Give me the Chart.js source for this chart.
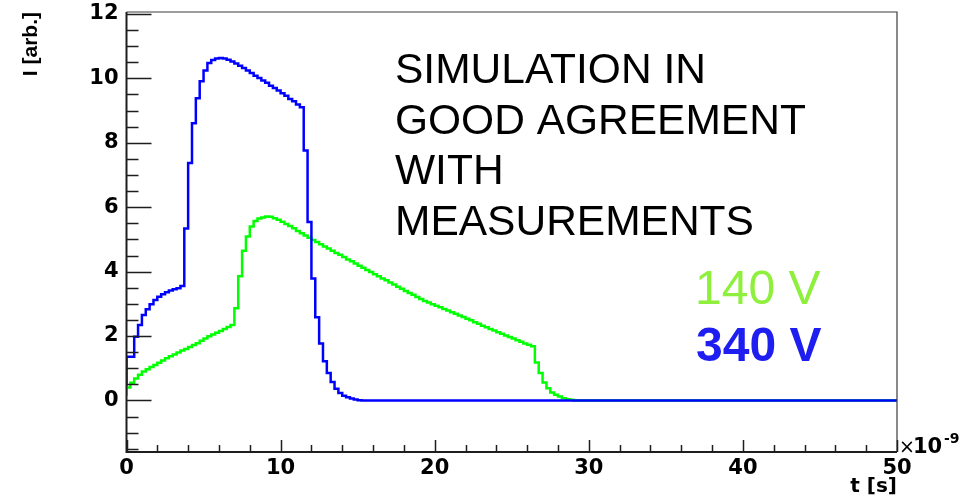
<!DOCTYPE html>
<html>
<head>
<meta charset="utf-8">
<script src="https://cdn.jsdelivr.net/npm/chart.js@4.4.1/dist/chart.umd.min.js"></script>
<style>
  html, body { margin: 0; padding: 0; background: #ffffff; }
  #wrap { width: 974px; height: 498px; }
</style>
</head>
<body>
<div id="wrap"><canvas id="c" width="974" height="498"></canvas></div>
<script>
// Simulated induced current I(t), histogrammed in 0.25 ns bins from 0 to 50 ns.
const binWidth = 0.25;           // ns per bin
const xTickLabels = [0, 10, 20, 30, 40, 50];
const yTickLabels = [0, 2, 4, 6, 8, 10, 12];
const seriesLabels = ['340 V', '140 V'];
const noteLines = ['SIMULATION IN', 'GOOD AGREEMENT', 'WITH', 'MEASUREMENTS'];

// 340 V: value where the outline starts at t = 0, then one value per bin
const start340 = 0.45;
const current340 = [
  1.36, 1.36, 1.98, 2.34, 2.65, 2.83, 2.99, 3.12, 3.22, 3.30,
  3.36, 3.41, 3.45, 3.48, 3.55, 5.34, 7.37, 8.61, 9.38, 9.91,
  10.24, 10.48, 10.57, 10.62, 10.63, 10.62, 10.58, 10.52, 10.46, 10.39,
  10.32, 10.24, 10.17, 10.08, 10.01, 9.93, 9.86, 9.77, 9.70, 9.62,
  9.54, 9.46, 9.36, 9.29, 9.19, 9.10, 7.76, 5.54, 3.79, 2.58,
  1.77, 1.22, 0.85, 0.57, 0.36, 0.23, 0.15, 0.10, 0.06, 0.03,
  0.01, 0, 0, 0, 0, 0, 0, 0, 0, 0,
  0, 0, 0, 0, 0, 0, 0, 0, 0, 0,
  0, 0, 0, 0, 0, 0, 0, 0, 0, 0,
  0, 0, 0, 0, 0, 0, 0, 0, 0, 0,
  0, 0, 0, 0, 0, 0, 0, 0, 0, 0,
  0, 0, 0, 0, 0, 0, 0, 0, 0, 0,
  0, 0, 0, 0, 0, 0, 0, 0, 0, 0,
  0, 0, 0, 0, 0, 0, 0, 0, 0, 0,
  0, 0, 0, 0, 0, 0, 0, 0, 0, 0,
  0, 0, 0, 0, 0, 0, 0, 0, 0, 0,
  0, 0, 0, 0, 0, 0, 0, 0, 0, 0,
  0, 0, 0, 0, 0, 0, 0, 0, 0, 0,
  0, 0, 0, 0, 0, 0, 0, 0, 0, 0,
  0, 0, 0, 0, 0, 0, 0, 0, 0, 0
];

// 140 V
const start140 = 0.15;
const current140 = [
  0.40, 0.55, 0.68, 0.80, 0.90, 0.97, 1.04, 1.10, 1.17, 1.24,
  1.31, 1.37, 1.43, 1.49, 1.55, 1.60, 1.66, 1.72, 1.78, 1.85,
  1.92, 1.99, 2.05, 2.10, 2.16, 2.22, 2.28, 2.34, 2.86, 3.86,
  4.65, 5.09, 5.40, 5.57, 5.65, 5.68, 5.71, 5.70, 5.66, 5.61,
  5.55, 5.48, 5.42, 5.35, 5.26, 5.19, 5.12, 5.05, 4.98, 4.92,
  4.85, 4.78, 4.72, 4.65, 4.58, 4.52, 4.45, 4.38, 4.32, 4.25,
  4.18, 4.12, 4.05, 3.99, 3.92, 3.86, 3.79, 3.73, 3.66, 3.60,
  3.53, 3.47, 3.40, 3.34, 3.28, 3.21, 3.15, 3.09, 3.04, 2.99,
  2.94, 2.89, 2.84, 2.79, 2.74, 2.69, 2.64, 2.59, 2.54, 2.49,
  2.43, 2.38, 2.32, 2.27, 2.22, 2.17, 2.12, 2.07, 2.02, 1.97,
  1.92, 1.87, 1.82, 1.77, 1.73, 1.68, 1.18, 0.85, 0.56, 0.38,
  0.25, 0.18, 0.12, 0.07, 0.04, 0.02, 0, 0, 0, 0,
  0, 0, 0, 0, 0, 0, 0, 0, 0, 0,
  0, 0, 0, 0, 0, 0, 0, 0, 0, 0,
  0, 0, 0, 0, 0, 0, 0, 0, 0, 0,
  0, 0, 0, 0, 0, 0, 0, 0, 0, 0,
  0, 0, 0, 0, 0, 0, 0, 0, 0, 0,
  0, 0, 0, 0, 0, 0, 0, 0, 0, 0,
  0, 0, 0, 0, 0, 0, 0, 0, 0, 0,
  0, 0, 0, 0, 0, 0, 0, 0, 0, 0
];

// Histogram outline: first point at t = 0, then each bin value placed at its upper edge.
// With stepped 'after' the line rises at the lower edge and runs flat across the bin.
function histOutline(start, values) {
  const pts = [{ x: 0, y: start }];
  values.forEach((v, i) => pts.push({ x: (i + 1) * binWidth, y: v }));
  return pts;
}

const AXIS_FONT = 'DejaVu Sans';
const TEXT_FONT = 'Liberation Sans';

// Axis frame with inward ticks, exponent label and the text notes
const rootFrame = {
  id: 'rootFrame',
  afterDatasetsDraw(chart) {
    const { ctx, chartArea: a, scales: { x, y } } = chart;
    ctx.save();

    // thin top and right frame lines
    ctx.strokeStyle = '#3c3c3c';
    ctx.lineWidth = 1.2;
    ctx.beginPath();
    ctx.moveTo(a.left, a.top);
    ctx.lineTo(a.right, a.top);
    ctx.lineTo(a.right, a.bottom);
    ctx.stroke();

    // axis lines
    ctx.strokeStyle = '#1e1e1e';
    ctx.lineWidth = 2;
    ctx.beginPath();
    ctx.moveTo(a.left, a.top);
    ctx.lineTo(a.left, a.bottom);
    ctx.lineTo(a.right, a.bottom);
    ctx.stroke();

    ctx.lineWidth = 1.5;
    ctx.beginPath();
    // y ticks: majors every label step, 4 subdivisions
    const yStep = yTickLabels[1] - yTickLabels[0];
    const yMinor = yStep / 4;
    for (let k = Math.ceil(y.min / yMinor); k * yMinor <= y.max + 1e-9; k++) {
      const v = k * yMinor;
      const isMajor = Math.abs(v / yStep - Math.round(v / yStep)) < 1e-6;
      const py = Math.round(y.getPixelForValue(v)) + 0.5;
      ctx.moveTo(a.left, py);
      ctx.lineTo(a.left + (isMajor ? 25 : 12), py);
    }
    // x ticks: majors every label step, 5 subdivisions
    const xStep = xTickLabels[1] - xTickLabels[0];
    const xMinor = xStep / 5;
    for (let k = Math.ceil(x.min / xMinor); k * xMinor <= x.max + 1e-9; k++) {
      const v = k * xMinor;
      const isMajor = Math.abs(v / xStep - Math.round(v / xStep)) < 1e-6;
      const px = Math.round(x.getPixelForValue(v)) + 0.5;
      ctx.moveTo(px, a.bottom);
      ctx.lineTo(px, a.bottom - (isMajor ? 12 : 7));
    }
    ctx.stroke();

    // exponent of the time axis
    ctx.fillStyle = '#000';
    ctx.textBaseline = 'alphabetic';
    ctx.textAlign = 'left';
    ctx.font = '19px "' + AXIS_FONT + '"';
    ctx.fillText('\u00d7', a.right + 2, a.bottom + 1);
    ctx.font = 'bold 21px "' + AXIS_FONT + '"';
    ctx.fillText('10', a.right + 16, a.bottom + 1);
    ctx.font = 'bold 14px "' + AXIS_FONT + '"';
    ctx.fillText('-9', a.right + 47, a.bottom - 9);

    // notes
    ctx.font = '42.5px "' + TEXT_FONT + '"';
    ctx.fillStyle = '#000000';
    noteLines.forEach((line, i) => ctx.fillText(line, 395, 83 + i * 50.7));

    ctx.font = '48px "' + TEXT_FONT + '"';
    ctx.fillStyle = '#8ef03c';
    ctx.fillText(seriesLabels[1], 695, 304);
    ctx.font = 'bold 48px "' + TEXT_FONT + '"';
    ctx.fillStyle = '#1e1ef0';
    ctx.fillText(seriesLabels[0], 696, 361);

    ctx.restore();
  }
};

const lineStyle = {
  stepped: 'after',
  pointRadius: 0,
  borderWidth: 2.5,
  fill: false,
  tension: 0,
  borderJoinStyle: 'miter',
  borderCapStyle: 'butt'
};

new Chart(document.getElementById('c'), {
  type: 'line',
  data: {
    datasets: [
      Object.assign({ label: seriesLabels[0], data: histOutline(start340, current340), borderColor: '#0000ff' }, lineStyle),
      Object.assign({ label: seriesLabels[1], data: histOutline(start140, current140), borderColor: '#00ff00' }, lineStyle)
    ]
  },
  options: {
    responsive: false,
    animation: false,
    devicePixelRatio: 1,
    events: [],
    layout: { padding: { top: 12, right: 77, left: 0, bottom: 0 } },
    plugins: { legend: { display: false }, tooltip: { enabled: false } },
    scales: {
      x: {
        type: 'linear',
        min: 0,
        max: 50,
        afterBuildTicks: s => { s.ticks = xTickLabels.map(v => ({ value: v })); },
        afterFit: s => { s.height = 46; s.paddingLeft = 0; s.paddingRight = 0; },
        grid: { display: false, drawTicks: false },
        border: { display: false },
        ticks: {
          autoSkip: false, maxRotation: 0, padding: 4, color: '#000',
          font: { family: AXIS_FONT, weight: 'bold', size: 21 }
        },
        title: {
          display: true, text: 't [s]', align: 'end', color: '#000',
          font: { family: AXIS_FONT, weight: 'bold', size: 20 },
          padding: { top: 0, bottom: -1 }
        }
      },
      y: {
        type: 'linear',
        min: -1.6,
        max: 12.06,
        afterBuildTicks: s => { s.ticks = yTickLabels.map(v => ({ value: v })); },
        afterFit: s => { s.width = 126.5; s.paddingTop = 0; s.paddingBottom = 0; },
        grid: { display: false, drawTicks: false },
        border: { display: false },
        ticks: {
          autoSkip: false, padding: 8, color: '#000',
          font: { family: AXIS_FONT, weight: 'bold', size: 21 }
        },
        title: {
          display: true, text: 'I [arb.]', align: 'end', color: '#000',
          font: { family: TEXT_FONT, weight: 'bold', size: 21 },
          padding: { top: 19, bottom: 0 }
        }
      }
    }
  },
  plugins: [rootFrame]
});
</script>
</body>
</html>
